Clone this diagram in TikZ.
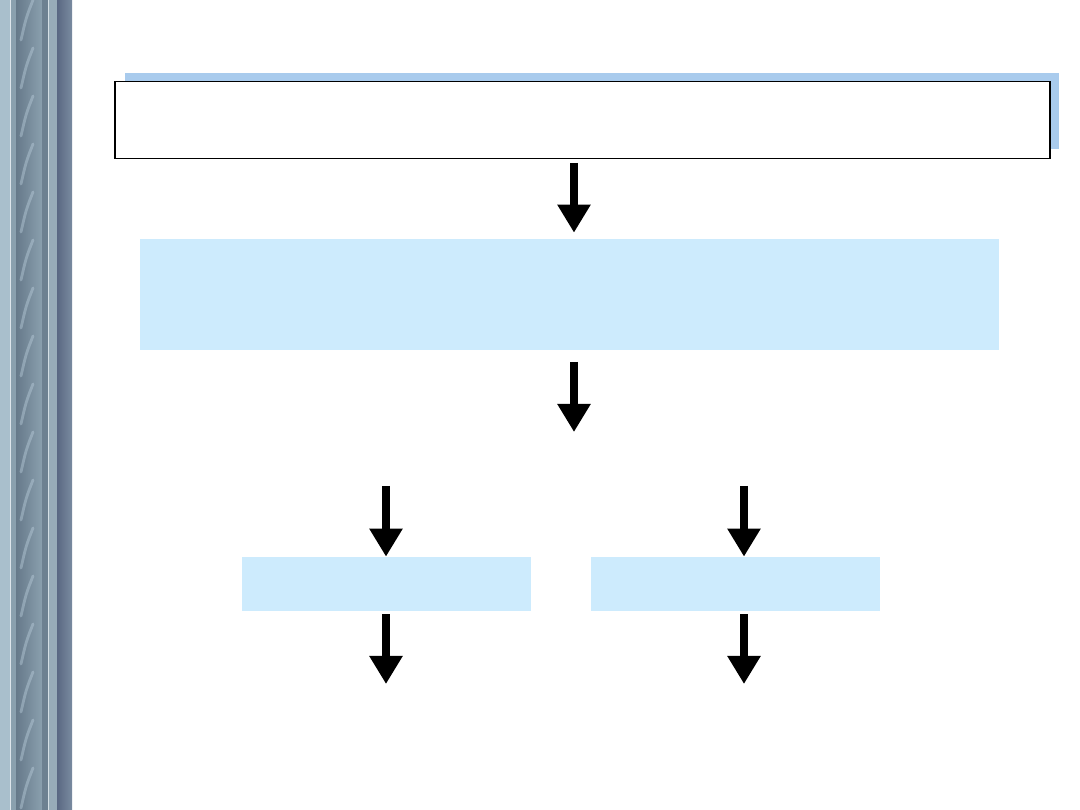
\documentclass[tikz,border=0pt]{standalone}
\usetikzlibrary{arrows.meta,shadows}

\definecolor{framelight}{HTML}{A9BFCC}
\definecolor{framemid}{HTML}{8AA0AE}
\definecolor{framedark}{HTML}{66798A}
\definecolor{framehl}{HTML}{B8CCDA}
\definecolor{frameblue}{HTML}{5A6882}
\definecolor{shadowblue}{HTML}{A9CBED}
\definecolor{paleblue}{HTML}{CDEBFD}

\tikzset{
  bigarrow/.style={line width=4pt, -{Triangle[width=18pt,length=16pt]}},
  titlebox/.style={draw=black, line width=0.8pt, fill=white, inner sep=0pt,
    drop shadow={shadow xshift=0.19cm, shadow yshift=0.18cm, fill=shadowblue, opacity=1}},
  stepbox/.style={fill=paleblue, inner sep=0pt}
}

\begin{document}
\begin{tikzpicture}[x=0.02cm, y=-0.02cm]

  % -- page --
  \fill[white] (0,0) rectangle (1080,810);

  % -- left frame bar --
  \fill[framelight] (0,0) rectangle (10,810);
  \fill[white!60!framelight] (10,0) rectangle (11,810);
  \fill[framemid] (11,0) rectangle (16,810);
  \shade[left color=framedark, right color=framemid] (16,0) rectangle (42,810);
  \begin{scope}
    \clip (16,0) rectangle (42,810);
    \foreach \y in {0,48,...,816}
      \draw[framehl, line width=1.6pt, opacity=0.45, line cap=round] (21,\y+40) .. controls (26,\y+18) .. (33,\y);
  \end{scope}
  \fill[framedark!80!framemid] (42,0) rectangle (48,810);
  \fill[white!50!framelight] (48,0) rectangle (49,810);
  \fill[framelight!90!black] (49,0) rectangle (57,810);
  \shade[left color=frameblue, right color=frameblue!60!framelight] (57,0) rectangle (72,810);

  % -- boxes --
  \node[titlebox, minimum width=18.7cm, minimum height=1.54cm] (title) at (582.5,120) {};
  \node[stepbox, minimum width=17.18cm, minimum height=2.22cm] (middle) at (569.5,294.5) {};
  \node[stepbox, minimum width=5.78cm, minimum height=1.08cm] (left) at (386.5,584) {};
  \node[stepbox, minimum width=5.78cm, minimum height=1.08cm] (right) at (735.5,584) {};

  % -- arrow ends --
  \coordinate (a1) at (574,163);
  \coordinate (a2s) at (574,362);
  \coordinate (a2e) at (574,432);
  \coordinate (l1) at (386,486);
  \coordinate (r1) at (744,486);
  \coordinate (l2) at (386,684);
  \coordinate (r2) at (744,684);

  % -- arrows --
  \draw[bigarrow, shorten >=6*0.02cm] (a1) -- (a1 |- middle.north);
  \draw[bigarrow] (a2s) -- (a2e);
  \draw[bigarrow] (l1) -- (l1 |- left.north);
  \draw[bigarrow] (r1) -- (r1 |- right.north);
  \draw[bigarrow] ([yshift=-3*0.02cm]left.south -| l2) -- (l2);
  \draw[bigarrow] ([yshift=-3*0.02cm]right.south -| r2) -- (r2);

\end{tikzpicture}
\end{document}
